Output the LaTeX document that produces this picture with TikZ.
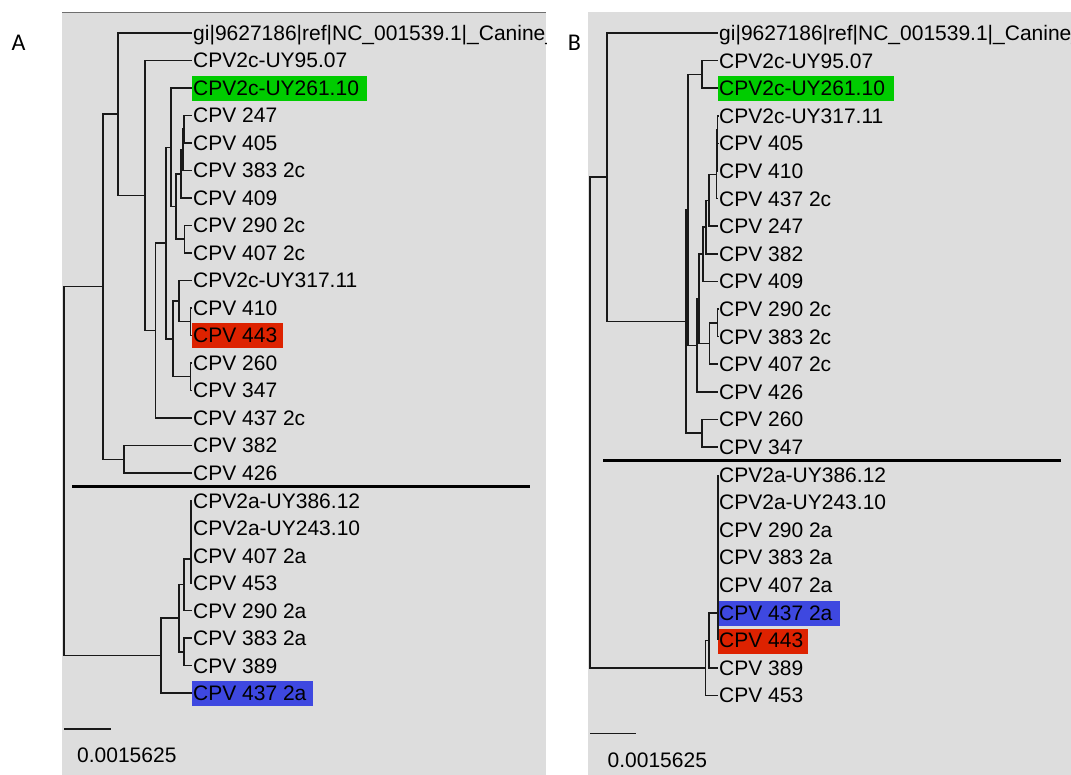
\documentclass[tikz,border=0pt]{standalone}
\usepackage{fontspec}
\setmainfont{Liberation Sans}
\newfontfamily\panelfont{Carlito}
\definecolor{panelgray}{RGB}{221,221,221}
\definecolor{bordergray}{RGB}{110,110,110}
\definecolor{hlgreen}{RGB}{0,204,0}
\definecolor{hlred}{RGB}{221,34,0}
\definecolor{hlblue}{RGB}{62,72,224}
\begin{document}
\begin{tikzpicture}[x=1pt,y=-1pt,
  br/.style={line width=1.5pt, draw=black!90},
  sepline/.style={line width=3pt, draw=black},
  leaf/.style={anchor=west, inner xsep=1pt, inner ysep=0pt, text height=15pt, text depth=0pt, font=\fontsize{21}{24}\selectfont},
  plabel/.style={inner sep=0pt, font=\panelfont\fontsize{24}{28}\selectfont}]
\useasboundingbox (0,0) rectangle (1071,775);

% panel labels
\node[plabel] (lblA) at (18.5,42.5) {A};
\node[plabel] (lblB) at (574.5,42.5) {B};

% ================= Panel A =================
\fill[panelgray] (62,12) rectangle (546,775);
\draw[bordergray, line width=1.5pt] (62,12.5) -- (546,12.5);
\begin{scope}
\clip (62,13) rectangle (546,775);
\fill[hlgreen] (192,76.5) rectangle (367,101);
\fill[hlred] (192,323.5) rectangle (283,348);
\fill[hlblue] (192,681) rectangle (313,706);
\foreach \i/\t in {0/{gi|9627186|ref|NC\_001539.1|\_Canine\_},1/{CPV2c-UY95.07},2/{CPV2c-UY261.10},3/{CPV 247},4/{CPV 405},5/{CPV 383 2c},6/{CPV 409},7/{CPV 290 2c},8/{CPV 407 2c},9/{CPV2c-UY317.11},10/{CPV 410},11/{CPV 443},12/{CPV 260},13/{CPV 347},14/{CPV 437 2c},15/{CPV 382},16/{CPV 426},17/{CPV2a-UY386.12},18/{CPV2a-UY243.10},19/{CPV 407 2a},20/{CPV 453},21/{CPV 290 2a},22/{CPV 383 2a},23/{CPV 389},24/{CPV 437 2a}}
  \node[leaf] (a\i) at (192,{33+27.5*\i}) {\t};
\coordinate (AP1) at (184,129.25);
\coordinate (AP2) at (183,149.9);
\coordinate (AP3) at (181,173.9);
\coordinate (AP4) at (184.5,239.25);
\coordinate (AP5) at (176,206.6);
\coordinate (AN6) at (171,147.3);
\coordinate (AR1) at (190.5,321.75);
\coordinate (AQ1) at (179,301.1);
\coordinate (AQ2) at (190.5,376.75);
\coordinate (AQ) at (173,338.9);
\coordinate (AN5) at (166,243.1);
\coordinate (AN4) at (155.5,330.55);
\coordinate (AN3) at (145,195.5);
\coordinate (AN2) at (118,114.25);
\coordinate (AL) at (124,459.25);
\coordinate (AN1) at (103,286.75);
\coordinate (AB1a) at (191,514.25);
\coordinate (AB1b) at (191,534.9);
\coordinate (AB1c) at (191,558.95);
\coordinate (AB2) at (184,584.7);
\coordinate (AB3) at (184,651.75);
\coordinate (AB4) at (179,618.2);
\coordinate (AB5) at (161,655.6);
\coordinate (AR) at (64,471.2);
\foreach \p/\c in {AP1/a3.west,AP1/a4.west,AP2/AP1,AP2/a5.west,AP3/AP2,AP3/a6.west,
  AP4/a7.west,AP4/a8.west,AP5/AP3,AP5/AP4,AN6/a2.west,AN6/AP5,
  AR1/a10.west,AR1/a11.west,AQ1/a9.west,AQ1/AR1,AQ2/a12.west,AQ2/a13.west,AQ/AQ1,AQ/AQ2,
  AN5/AN6,AN5/AQ,AN4/AN5,AN4/a14.west,AN3/a1.west,AN3/AN4,AN2/a0.west,AN2/AN3,
  AL/a15.west,AL/a16.west,AN1/AN2,AN1/AL,
  AB1a/a17.west,AB1a/a18.west,AB1b/AB1a,AB1b/a19.west,AB1c/AB1b,AB1c/a20.west,
  AB2/AB1c,AB2/a21.west,AB3/a22.west,AB3/a23.west,AB4/AB2,AB4/AB3,AB5/AB4,AB5/a24.west,
  AR/AN1,AR/AB5}
  \draw[br] (\p) |- (\c);
\coordinate (sepA1) at (72,486);
\coordinate (sepA2) at (530,486);
\draw[sepline] (sepA1) -- (sepA2);
\coordinate (sbA1) at (64,729);
\coordinate (sbA2) at (111,729);
\draw[br] (sbA1) -- (sbA2);
\node[leaf] (sbAt) at (76,755) {0.0015625};
\end{scope}

% ================= Panel B =================
\fill[panelgray] (588,12) rectangle (1071,775);
\begin{scope}
\clip (588,12) rectangle (1071,775);
\fill[hlgreen] (718,76) rectangle (894,101);
\fill[hlblue] (718,601) rectangle (840,626);
\fill[hlred] (718,629) rectangle (808,654);
\foreach \i/\t in {0/{gi|9627186|ref|NC\_001539.1|\_Canine\_},1/{CPV2c-UY95.07},2/{CPV2c-UY261.10},3/{CPV2c-UY317.11},4/{CPV 405},5/{CPV 410},6/{CPV 437 2c},7/{CPV 247},8/{CPV 382},9/{CPV 409},10/{CPV 290 2c},11/{CPV 383 2c},12/{CPV 407 2c},13/{CPV 426},14/{CPV 260},15/{CPV 347},16/{CPV2a-UY386.12},17/{CPV2a-UY243.10},18/{CPV 290 2a},19/{CPV 383 2a},20/{CPV 407 2a},21/{CPV 437 2a},22/{CPV 443},23/{CPV 389},24/{CPV 453}}
  \node[leaf] (b\i) at (718,{33+27.6*\i}) {\t};
\coordinate (BT1) at (702,74.4);
\coordinate (BP1a) at (717.5,129.6);
\coordinate (BP1b) at (717,150.3);
\coordinate (BP1c) at (716.5,174.45);
\coordinate (BP2) at (709,200.3);
\coordinate (BP3) at (706,227.05);
\coordinate (BP4) at (703,254.2);
\coordinate (BQ0) at (717.5,322.8);
\coordinate (BQ1) at (709.5,343.5);
\coordinate (BP5a) at (699,298.85);
\coordinate (BP5) at (697,345.3);
\coordinate (BN2a) at (688,209.85);
\coordinate (BT2) at (702,433.2);
\coordinate (BN2) at (686,321.5);
\coordinate (BN1) at (607,177.25);
\coordinate (BB1a) at (718,488.4);
\coordinate (BB1b) at (718,509.1);
\coordinate (BB1c) at (718,533.25);
\coordinate (BB1d) at (718,559.1);
\coordinate (BB1e) at (718,585.85);
\coordinate (BB1f) at (718,613.2);
\coordinate (BB2) at (709,640.5);
\coordinate (BB3) at (705.7,667.95);
\coordinate (BR) at (590,422.6);
\foreach \p/\c in {BT1/b1.west,BT1/b2.west,BP1a/b3.west,BP1a/b4.west,BP1b/BP1a,BP1b/b5.west,
  BP1c/BP1b,BP1c/b6.west,BP2/BP1c,BP2/b7.west,BP3/BP2,BP3/b8.west,BP4/BP3,BP4/b9.west,
  BQ0/b10.west,BQ0/b11.west,BQ1/BQ0,BQ1/b12.west,BP5a/BP4,BP5a/BQ1,BP5/BP5a,BP5/b13.west,
  BN2a/BT1,BN2a/BP5,BT2/b14.west,BT2/b15.west,BN2/BN2a,BN2/BT2,BN1/b0.west,BN1/BN2,
  BB1a/b16.west,BB1a/b17.west,BB1b/BB1a,BB1b/b18.west,BB1c/BB1b,BB1c/b19.west,
  BB1d/BB1c,BB1d/b20.west,BB1e/BB1d,BB1e/b21.west,BB1f/BB1e,BB1f/b22.west,
  BB2/BB1f,BB2/b23.west,BB3/BB2,BB3/b24.west,BR/BN1,BR/BB3}
  \draw[br] (\p) |- (\c);
\coordinate (sepB1) at (603,460);
\coordinate (sepB2) at (1061,460);
\draw[sepline] (sepB1) -- (sepB2);
\coordinate (sbB1) at (590,733.3);
\coordinate (sbB2) at (636,733.3);
\draw[br] (sbB1) -- (sbB2);
\node[leaf] (sbBt) at (606.5,760) {0.0015625};
\end{scope}
\end{tikzpicture}
\end{document}
